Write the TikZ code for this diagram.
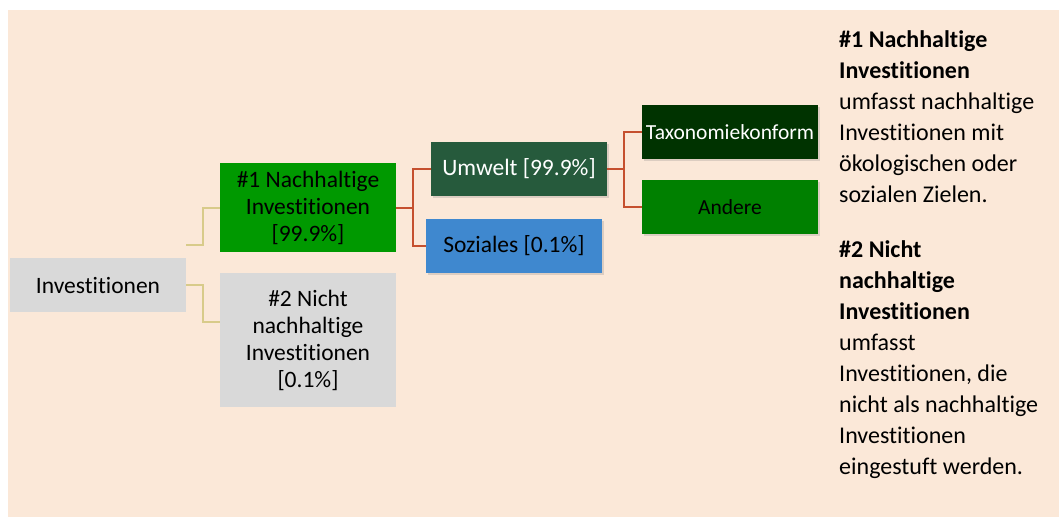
\documentclass[tikz,border=0pt]{standalone}
\usepackage{fontspec}
\setmainfont{Carlito}[Ligatures={NoCommon,NoContextual}, Contextuals=NoAlternate]
\usetikzlibrary{positioning,shadows}
\definecolor{bgpeach}{HTML}{FBE8D8}
\definecolor{boxgrey}{HTML}{D9D9D9}
\definecolor{nachgreen}{HTML}{009900}
\definecolor{umwgreen}{HTML}{265A3C}
\definecolor{sozblue}{HTML}{3F88CF}
\definecolor{taxgreen}{HTML}{003300}
\definecolor{andgreen}{HTML}{008000}
\definecolor{tanline}{HTML}{D8CB8A}
\definecolor{redline}{HTML}{C5502F}
\begin{document}
\begin{tikzpicture}[x=1pt, y=-1pt,
    main/.style = {minimum width=176pt, inner sep=0pt, align=center, font=\fontsize{23.5}{27}\selectfont},
    sub/.style = {main, drop shadow={shadow xshift=1.5pt, shadow yshift=-2pt, opacity=0.25}},
    leaf/.style = {sub, minimum height=54pt, font=\fontsize{21.5}{25}\selectfont},
    tan/.style = {draw=tanline, line width=2pt},
    red/.style = {draw=redline, line width=2pt}]
    \useasboundingbox (0,0) rectangle (1059,517);
    \fill[bgpeach] (8,10) rectangle (1059,517);
    % left tree
    \node[main, fill=boxgrey, minimum height=54pt] (inv) at (98,285) {Investitionen};
    \node[main, fill=nachgreen, minimum height=89pt] (nach) at (308,207.5) {\#1 Nachhaltige\\Investitionen\\{}[99.9\%]};
    \node[main, fill=boxgrey, minimum height=134pt] (nicht) at (308,340) {\#2 Nicht\\nachhaltige\\Investitionen\\{}[0.1\%]};
    % second level
    \node[sub, fill=umwgreen, text=white, minimum height=54pt] (umw) at (519,169) {Umwelt [99.9\%]};
    \node[sub, fill=sozblue, minimum height=54pt] (soz) at (514,246) {Soziales [0.1\%]};
    \node[leaf, fill=taxgreen, text=white] (taxo) at (730,132) {Taxonomiekonform};
    \node[leaf, fill=andgreen] (andere) [below=21pt of taxo] {Andere};
    % connectors
    \draw[tan] ([yshift=40pt]inv.east) -- ++(17,0) |- (nach.west);
    \draw[tan] (inv.east) -- ++(17,0) |- ([yshift=18pt]nicht.west);
    \draw[red] (nach.east) -- ++(17,0) |- (umw.west);
    \draw[red] (nach.east) ++(17,0) |- (soz.west);
    \draw[red] (umw.east) -- ++(17,0) |- (taxo.west);
    \draw[red] (umw.east) ++(17,0) |- (andere.west);
    % notes
    \node[anchor=north west, inner sep=0pt, align=left, font=\fontsize{24}{31}\selectfont] (notes) at (839,30)
        {\textbf{\#1 Nachhaltige}\\\textbf{Investitionen}\\umfasst nachhaltige\\Investitionen mit\\ökologischen oder\\sozialen Zielen.\\[24pt]
         \textbf{\#2 Nicht}\\\textbf{nachhaltige}\\\textbf{Investitionen}\\umfasst\\Investitionen, die\\nicht als nachhaltige\\Investitionen\\eingestuft werden.};
\end{tikzpicture}
\end{document}
